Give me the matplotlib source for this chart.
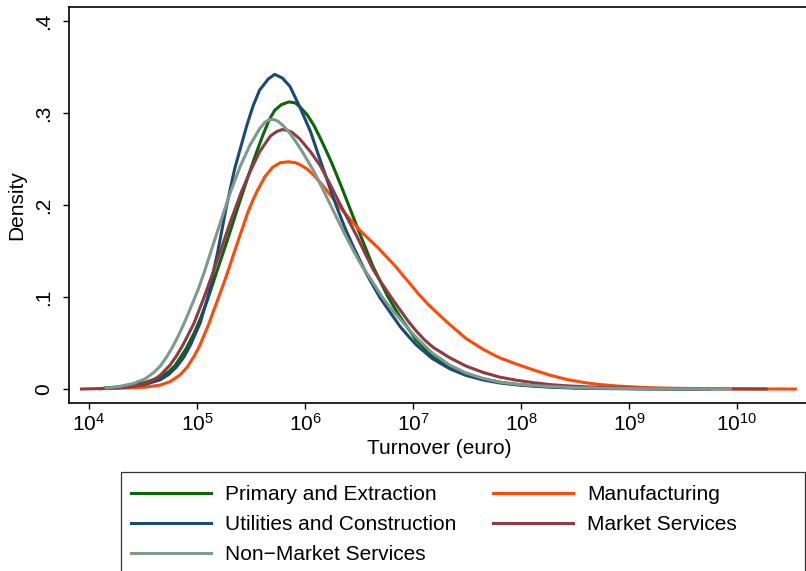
import matplotlib
matplotlib.use("Agg")
import matplotlib.pyplot as plt
from matplotlib.patches import Rectangle
import numpy as np

plt.rcParams['font.family'] = ['Liberation Sans', 'DejaVu Sans']

# kernel densities, x = log10(turnover in euro)
primary_x = [4.15, 4.33, 4.52, 4.66, 4.74, 4.80, 4.90, 4.97, 5.03, 5.10, 5.19, 5.29, 5.38, 5.47, 5.55, 5.61, 5.67, 5.72, 5.78, 5.85,
             5.91, 5.95, 6.02, 6.08, 6.14, 6.20, 6.25, 6.34, 6.42, 6.51, 6.63, 6.76, 6.83, 6.88, 6.96, 7.03, 7.18, 7.34, 7.49, 7.65,
             7.80, 7.96, 8.12, 8.27, 8.50, 8.73, 9.19, 9.75]
primary_y = [0.0008, 0.003, 0.007, 0.013, 0.019, 0.026, 0.044, 0.060, 0.076, 0.098, 0.130, 0.165, 0.198, 0.230, 0.257, 0.276, 0.293, 0.303, 0.309, 0.312,
             0.311, 0.307, 0.298, 0.287, 0.273, 0.258, 0.245, 0.219, 0.195, 0.168, 0.133, 0.102, 0.088, 0.0785, 0.065, 0.053, 0.036, 0.024, 0.016, 0.011,
             0.0075, 0.005, 0.0035, 0.0025, 0.0014, 0.0008, 0.0002, 0.0]

manuf_x = [4.10, 4.33, 4.52, 4.66, 4.75, 4.84, 4.91, 4.97, 5.02, 5.06, 5.11, 5.15, 5.21, 5.26, 5.32, 5.38, 5.43, 5.47, 5.52, 5.56,
           5.63, 5.70, 5.77, 5.85, 5.91, 5.95, 6.02, 6.08, 6.14, 6.21, 6.29, 6.37, 6.45, 6.52, 6.60, 6.68, 6.76, 6.84, 6.91, 6.99,
           7.06, 7.14, 7.22, 7.34, 7.49, 7.65, 7.80, 7.96, 8.12, 8.27, 8.42, 8.58, 8.73, 8.89, 9.04, 9.19, 9.42, 9.66, 9.90, 10.12,
           10.54]
manuf_y = [0.0003, 0.001, 0.002, 0.0043, 0.008, 0.015, 0.024, 0.035, 0.046, 0.057, 0.071, 0.084, 0.103, 0.119, 0.140, 0.161, 0.178, 0.192, 0.206, 0.216,
           0.231, 0.241, 0.246, 0.247, 0.246, 0.244, 0.239, 0.2325, 0.2245, 0.2145, 0.2025, 0.191, 0.180, 0.171, 0.162, 0.153, 0.143, 0.133, 0.123, 0.112,
           0.102, 0.092, 0.083, 0.070, 0.055, 0.043, 0.034, 0.027, 0.0205, 0.015, 0.0105, 0.0071, 0.0048, 0.0033, 0.0022, 0.0014, 0.0008, 0.0004, 0.0002, 0.0001,
           0.0]

util_x = [4.12, 4.33, 4.52, 4.66, 4.74, 4.81, 4.88, 4.94, 5.03, 5.10, 5.19, 5.27, 5.35, 5.46, 5.52, 5.58, 5.66, 5.72, 5.79, 5.86,
          5.95, 6.05, 6.14, 6.22, 6.29, 6.37, 6.45, 6.57, 6.69, 6.79, 6.88, 6.96, 7.03, 7.18, 7.34, 7.49, 7.65, 7.80, 7.96, 8.12,
          8.27, 8.50, 8.73, 9.19, 9.66]
util_y = [0.0005, 0.002, 0.005, 0.010, 0.016, 0.024, 0.035, 0.048, 0.072, 0.100, 0.148, 0.197, 0.240, 0.286, 0.308, 0.325, 0.337, 0.342, 0.338, 0.329,
          0.307, 0.280, 0.249, 0.222, 0.199, 0.175, 0.154, 0.125, 0.100, 0.083, 0.068, 0.057, 0.048, 0.033, 0.022, 0.0148, 0.0098, 0.0066, 0.0045, 0.003,
          0.002, 0.001, 0.0005, 0.0001, 0.0]

market_x = [3.93, 4.10, 4.29, 4.41, 4.52, 4.60, 4.66, 4.75, 4.81, 4.87, 4.97, 5.06, 5.14, 5.22, 5.31, 5.41, 5.49, 5.58, 5.68, 5.74,
            5.79, 5.84, 5.88, 5.95, 6.05, 6.14, 6.23, 6.32, 6.40, 6.48, 6.55, 6.63, 6.71, 6.79, 6.88, 6.96, 7.03, 7.11, 7.19, 7.34,
            7.49, 7.65, 7.80, 7.96, 8.12, 8.27, 8.42, 8.58, 8.75, 8.92, 9.29, 9.66, 9.98, 10.27]
market_y = [0.0, 0.0005, 0.0015, 0.003, 0.006, 0.010, 0.015, 0.026, 0.036, 0.048, 0.071, 0.098, 0.124, 0.151, 0.182, 0.214, 0.236, 0.258, 0.275, 0.280,
            0.282, 0.281, 0.279, 0.272, 0.258, 0.243, 0.223, 0.202, 0.184, 0.166, 0.149, 0.130, 0.115, 0.101, 0.086, 0.073, 0.063, 0.053, 0.045, 0.034,
            0.025, 0.018, 0.013, 0.0095, 0.0068, 0.0048, 0.0035, 0.0025, 0.0017, 0.0012, 0.0005, 0.0002, 0.0001, 0.0]

nonmarket_x = [4.16, 4.29, 4.41, 4.52, 4.60, 4.66, 4.72, 4.78, 4.84, 4.89, 4.94, 5.01, 5.07, 5.13, 5.18, 5.23, 5.31, 5.40, 5.49, 5.58,
               5.63, 5.67, 5.71, 5.75, 5.80, 5.86, 5.92, 5.98, 6.08, 6.17, 6.29, 6.37, 6.45, 6.52, 6.60, 6.66, 6.72, 6.82, 6.88, 6.96,
               7.03, 7.18, 7.34, 7.49, 7.65, 7.80, 7.96, 8.12, 8.27, 8.50, 8.73, 9.19, 9.66, 9.94]
nonmarket_y = [0.001, 0.003, 0.006, 0.011, 0.018, 0.025, 0.035, 0.047, 0.061, 0.074, 0.088, 0.108, 0.128, 0.150, 0.168, 0.186, 0.214, 0.242, 0.265, 0.283,
               0.290, 0.293, 0.293, 0.291, 0.286, 0.278, 0.268, 0.257, 0.237, 0.216, 0.187, 0.168, 0.150, 0.135, 0.121, 0.110, 0.099, 0.084, 0.076, 0.065,
               0.056, 0.039, 0.026, 0.0175, 0.0115, 0.0075, 0.0052, 0.0037, 0.0027, 0.0015, 0.0009, 0.0003, 0.0001, 0.0]

x_ticks = [1e4, 1e5, 1e6, 1e7, 1e8, 1e9, 1e10]
x_ticklabels = [r'$\mathregular{10^{%d}}$' % p for p in range(4, 11)]
y_ticks = [0, 0.1, 0.2, 0.3, 0.4]
y_ticklabels = ['0', '.1', '.2', '.3', '.4']

W, H = 806, 571
fig = plt.figure(figsize=(W / 100, H / 100), dpi=100)
ax = fig.add_axes([68.5 / W, 1 - 403 / H, (810 - 68.5) / W, (403 - 7) / H])

lw = 2.2
# Stata plot order: primary, manufacturing, utilities, market, non-market
l1, = ax.plot(10 ** np.array(primary_x), primary_y, color='#0b650b', lw=lw, label='Primary and Extraction')
l2, = ax.plot(10 ** np.array(manuf_x), manuf_y, color='#ff4a0a', lw=lw, label='Manufacturing')
l3, = ax.plot(10 ** np.array(util_x), util_y, color='#1c4a73', lw=lw, label='Utilities and Construction')
l4, = ax.plot(10 ** np.array(market_x), market_y, color='#8e3b43', lw=lw, label='Market Services')
l5, = ax.plot(10 ** np.array(nonmarket_x), nonmarket_y, color='#7d9a8d', lw=lw, label='Non\u2212Market Services')

ax.set_xscale('log')
ax.set_xlim(10 ** 3.81, 10 ** (4 + (810 - 89) / 108))
ax.set_ylim(-0.0152, 0.4152)
ax.set_xticks(x_ticks)
ax.set_xticklabels(x_ticklabels)
ax.xaxis.set_minor_locator(matplotlib.ticker.NullLocator())
ax.set_yticks(y_ticks)
ax.set_yticklabels(y_ticklabels, rotation=90, va='center')
ax.tick_params(axis='both', direction='out', length=4, width=1, labelsize=15, color='black')
ax.tick_params(axis='y', pad=7)
ax.tick_params(axis='x', pad=3)
for s in ['left', 'bottom', 'top']:
    ax.spines[s].set_linewidth(1.2)
ax.spines['right'].set_visible(False)

ax.set_xlabel('Turnover (euro)', fontsize=15, labelpad=3)
ax.set_ylabel('Density', fontsize=15, labelpad=6)

# legend box (cut by the bottom of the image)
box = Rectangle((121 / W, -0.2), (805 - 121) / W, (571 - 472) / H + 0.2,
                transform=fig.transFigure, fill=False, edgecolor='#333333', lw=0.9)
fig.add_artist(box)

fig.legend([l1, l3, l5, l2, l4], [h.get_label() for h in [l1, l3, l5, l2, l4]],
           ncol=2, frameon=False, loc='upper left', bbox_to_anchor=(131 / W, 1 - 485 / H),
           borderpad=0, borderaxespad=0, handlelength=3.84, handletextpad=0.67,
           columnspacing=1.78, labelspacing=0.54, fontsize=15)

fig.savefig('out.png', dpi=100)
